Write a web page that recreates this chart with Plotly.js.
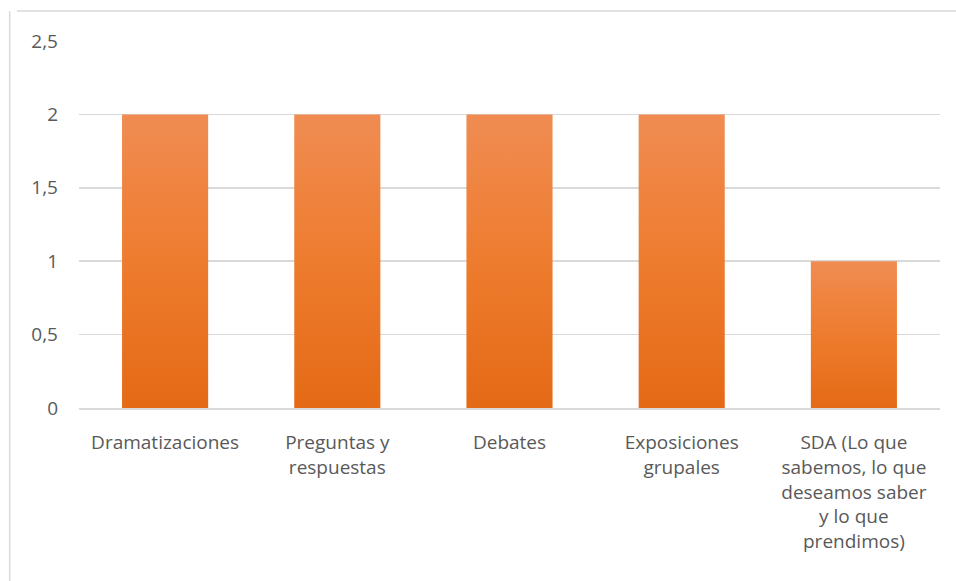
<!DOCTYPE html>
<html>
<head>
<meta charset="utf-8">
<script src="https://cdn.plot.ly/plotly-3.0.1.min.js"></script>
<style>
html,body{margin:0;padding:0;background:#fff;}
#chart{width:956px;height:581px;}
</style>
</head>
<body>
<div id="chart"></div>
<script>
var categories = [
  "Dramatizaciones",
  "Preguntas y<br>respuestas",
  "Debates",
  "Exposiciones<br>grupales",
  "SDA (Lo que<br>sabemos, lo que<br>deseamos saber<br>y lo que<br>prendimos)"
];
var values = [2, 2, 2, 2, 1];
var yTickValues = [0, 0.5, 1, 1.5, 2, 2.5];
var yTickLabels = ["0", "0,5", "1", "1,5", "2", "2,5"];

var trace = {
  type: "bar",
  x: categories,
  y: values,
  marker: {color: "#EC7A2E", line: {width: 0}},
  hoverinfo: "none"
};

var layout = {
  width: 956,
  height: 581,
  margin: {l: 79, r: 16, t: 41, b: 173},
  paper_bgcolor: "#ffffff",
  plot_bgcolor: "#ffffff",
  bargap: 0.5,
  showlegend: false,
  font: {family: "Open Sans, sans-serif", size: 19, color: "#595959"},
  xaxis: {
    type: "category",
    showgrid: false,
    showline: true,
    linecolor: "#d9d9d9",
    linewidth: 1.5,
    ticks: "",
    ticklabelstandoff: 17,
    tickfont: {size: 19, color: "#595959"},
    automargin: false
  },
  yaxis: {
    range: [0, 2.5],
    tickvals: yTickValues,
    ticktext: yTickLabels,
    showgrid: true,
    gridcolor: "#d9d9d9",
    gridwidth: 1.5,
    zeroline: false,
    showline: false,
    ticks: "",
    ticklabelstandoff: 20,
    tickfont: {size: 19, color: "#595959"},
    automargin: false
  },
  shapes: [
    {type: "line", xref: "paper", yref: "paper", x0: -0.072, x1: 1.02, y0: 1.082, y1: 1.082,
     line: {color: "#d9d9d9", width: 1.5}},
    {type: "line", xref: "paper", yref: "paper", x0: -0.0805, x1: -0.0805, y0: 1.082, y1: -0.5,
     line: {color: "#d9d9d9", width: 1.5}}
  ]
};

Plotly.newPlot("chart", [trace], layout, {displayModeBar: false, staticPlot: true}).then(function (gd) {
  var svg = gd.querySelector("svg.main-svg");
  var ns = "http://www.w3.org/2000/svg";
  var defs = svg.querySelector("defs");
  var grad = document.createElementNS(ns, "linearGradient");
  grad.setAttribute("id", "barGrad");
  grad.setAttribute("x1", "0"); grad.setAttribute("y1", "0");
  grad.setAttribute("x2", "0"); grad.setAttribute("y2", "1");
  var s1 = document.createElementNS(ns, "stop");
  s1.setAttribute("offset", "0"); s1.setAttribute("stop-color", "#F08C52");
  var s2 = document.createElementNS(ns, "stop");
  s2.setAttribute("offset", "0.5"); s2.setAttribute("stop-color", "#EE7C2E");
  var s3 = document.createElementNS(ns, "stop");
  s3.setAttribute("offset", "1"); s3.setAttribute("stop-color", "#E46A16");
  grad.appendChild(s1); grad.appendChild(s2); grad.appendChild(s3);
  defs.appendChild(grad);
  gd.querySelectorAll(".barlayer .point path").forEach(function (p) {
    p.style.fill = "url(#barGrad)";
  });
});
</script>
</body>
</html>
